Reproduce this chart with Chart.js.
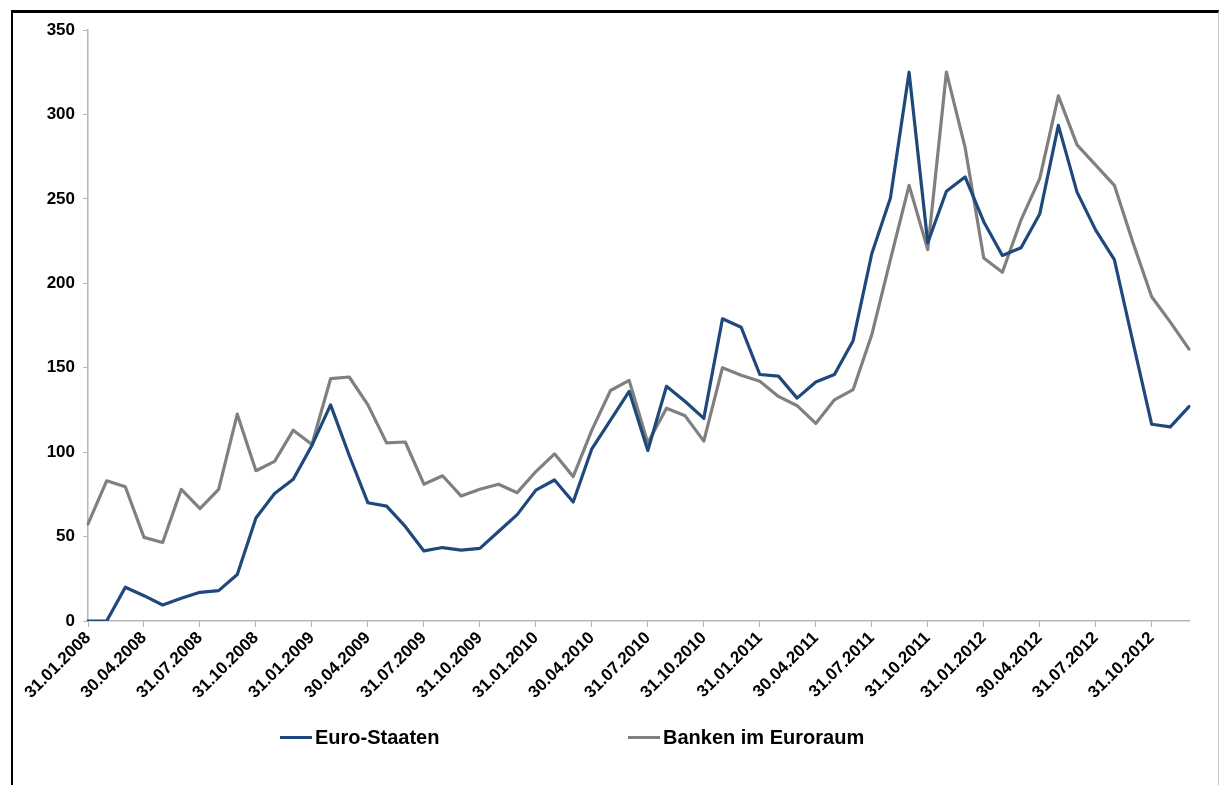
<!DOCTYPE html>
<html>
<head>
<meta charset="utf-8">
<script src="https://cdn.jsdelivr.net/npm/chart.js@4"></script>
<style>
html, body { margin: 0; padding: 0; background: #fff; overflow: hidden; }
#wrap { position: relative; width: 1220px; height: 785px; }
#frame { position: absolute; left: 11px; top: 10px; width: 1208px; height: 800px; box-sizing: border-box;
  border-top: 3px solid #000; border-left: 2px solid #000; border-right: 1px solid #c4c4c4; }
canvas { position: absolute; left: 0; top: 0; }
.leg { position: absolute; top: 726px; display: flex; align-items: center;
  font: bold 20px "Liberation Sans", Arial, sans-serif; color: #000; }
.leg span.line { display: inline-block; width: 32px; height: 3px; margin-right: 3px; }
</style>
</head>
<body>
<div id="wrap">
  <div id="frame"></div>
  <canvas id="chart" width="1220" height="785"></canvas>
  <div id="legend"></div>
</div>
<script>
const labels = [
  '31.01.2008', '29.02.2008', '31.03.2008', '30.04.2008', '31.05.2008', '30.06.2008',
  '31.07.2008', '31.08.2008', '30.09.2008', '31.10.2008', '30.11.2008', '31.12.2008',
  '31.01.2009', '28.02.2009', '31.03.2009', '30.04.2009', '31.05.2009', '30.06.2009',
  '31.07.2009', '31.08.2009', '30.09.2009', '31.10.2009', '30.11.2009', '31.12.2009',
  '31.01.2010', '28.02.2010', '31.03.2010', '30.04.2010', '31.05.2010', '30.06.2010',
  '31.07.2010', '31.08.2010', '30.09.2010', '31.10.2010', '30.11.2010', '31.12.2010',
  '31.01.2011', '28.02.2011', '31.03.2011', '30.04.2011', '31.05.2011', '30.06.2011',
  '31.07.2011', '31.08.2011', '30.09.2011', '31.10.2011', '30.11.2011', '31.12.2011',
  '31.01.2012', '29.02.2012', '31.03.2012', '30.04.2012', '31.05.2012', '30.06.2012',
  '31.07.2012', '31.08.2012', '30.09.2012', '31.10.2012', '30.11.2012', '31.12.2012'
]

const euroStaaten = [
  0, 0, 20, 15, 9.5, 13.5, 17, 18, 27.5, 61, 75.5, 84,
  104, 128, 98, 70, 68, 56, 41.5, 43.5, 42, 43, 53, 63,
  77.5, 83.5, 70.5, 102, 119, 136, 101, 139, 130, 120, 179, 174,
  146, 145, 132, 141.5, 146, 166, 217.5, 250.5, 325, 224, 254.5, 263,
  236.5, 216.5, 221, 241, 293.5, 254, 231.5, 214, 165, 116.5, 115, 127
]

const bankenEuroraum = [
  57.5, 83, 79.5, 49.5, 46.5, 78, 66.5, 78, 122.5, 89, 94.5, 113,
  104.5, 143.5, 144.5, 128, 105.5, 106, 81, 86, 74, 78, 81, 76,
  88.5, 99, 85.5, 113, 136.5, 142.5, 105.5, 126, 121.5, 106.5, 150, 145.5,
  142, 133, 127.5, 117, 131, 137, 169.5, 214, 258, 220, 325, 280.5,
  215, 206.5, 237.5, 262, 311, 282, 270, 258, 224, 192, 177, 161
]

const yMin = 0
const yMax = 350
const yStep = 50
const labelEvery = 3

const axisGrey = '#b5b5b5'
const tickFont = { family: '"Liberation Sans", Arial, sans-serif', weight: 'bold', size: 17 }

const ctx = document.getElementById('chart').getContext('2d')

const datasets = [{
    label: 'Euro-Staaten',
    data: euroStaaten,
    borderColor: '#1f497d',
    backgroundColor: '#1f497d',
    borderWidth: 3.2,
    borderJoinStyle: 'round',
    borderCapStyle: 'round',
    pointRadius: 0,
    tension: 0
},{
    label: 'Banken im Euroraum',
    data: bankenEuroraum,
    borderColor: '#808080',
    backgroundColor: '#808080',
    borderWidth: 3.2,
    borderJoinStyle: 'round',
    borderCapStyle: 'round',
    pointRadius: 0,
    tension: 0
}]

const chart = new Chart(ctx, {
    type: 'line',
    data: { labels, datasets },
    options: {
        responsive: false,
        animation: false,
        layout: { padding: { left: 0, right: 31, top: 30, bottom: 74 } },
        plugins: {
            legend: { display: false },
            tooltip: { enabled: false }
        },
        scales: {
            x: {
                grid: {
                    drawOnChartArea: false,
                    tickLength: 6,
                    tickColor: c => c.index % labelEvery === 0 ? axisGrey : 'rgba(0,0,0,0)'
                },
                border: { color: axisGrey, width: 1.5 },
                ticks: {
                    autoSkip: false,
                    maxRotation: 45,
                    minRotation: 45,
                    padding: 1,
                    color: '#000',
                    font: tickFont,
                    callback: (v, i) => i % labelEvery === 0 ? labels[i] : ''
                },
                afterFit: s => { s.height = 90 }
            },
            y: {
                min: yMin,
                max: yMax,
                grid: { drawOnChartArea: false, tickLength: 5, tickColor: axisGrey },
                border: { color: axisGrey, width: 1.5 },
                ticks: { stepSize: yStep, padding: 8, color: '#000', font: tickFont },
                afterFit: s => { s.width = 88 }
            }
        }
    }
})

// ------- legend (html) -------
const legendLeft = [280, 628]
const legend = document.getElementById('legend')
chart.data.datasets.forEach((ds, i) => {
    const item = document.createElement('div')
    item.className = 'leg'
    item.style.left = legendLeft[i] + 'px'
    item.innerHTML = `<span class="line" style="background:${ds.borderColor}"></span>${ds.label}`
    legend.appendChild(item)
})
</script>
</body>
</html>
